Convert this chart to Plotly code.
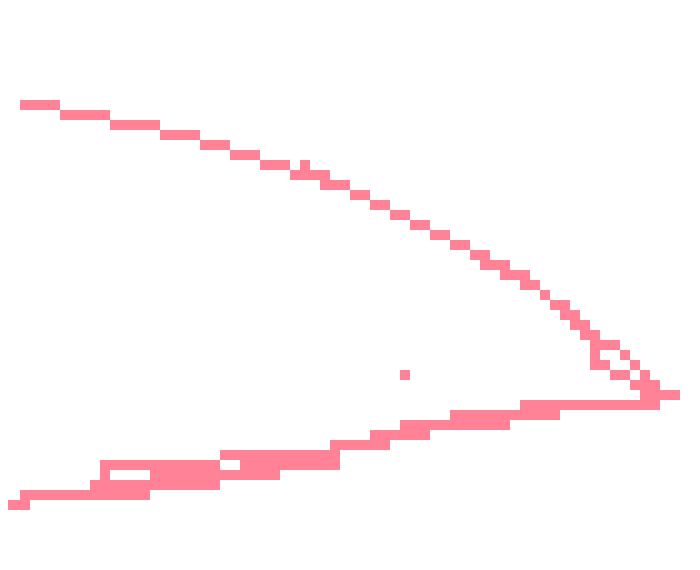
import numpy as np
import plotly.graph_objects as go

# filled runs on a 70 x 57 grid: row index, first column, last column
run_rows = [10, 11, 12, 13, 14, 15, 16, 16, 17, 18, 19, 20, 21, 22, 23, 24,
            25, 26, 27, 28, 29, 30, 31, 32, 33, 34, 35, 35, 36, 36, 37, 37,
            37, 38, 39, 40, 41, 42, 43, 44, 45, 46, 46, 47, 47, 48, 49, 50]
run_start = [2, 6, 11, 16, 20, 23, 26, 30, 29, 32, 35, 37, 39, 41, 43, 45,
             47, 48, 50, 52, 54, 55, 56, 57, 58, 59, 59, 62, 59, 63, 40, 61,
             64, 63, 64, 52, 45, 40, 37, 33, 22, 10, 24, 10, 15, 9, 2, 0]
run_end = [5, 10, 15, 19, 22, 25, 28, 30, 32, 34, 36, 38, 40, 42, 44, 46,
           48, 50, 52, 53, 54, 56, 57, 58, 59, 61, 59, 62, 60, 63, 40, 62,
           64, 65, 67, 65, 55, 50, 42, 38, 33, 21, 33, 10, 27, 21, 14, 2]

n_cols, n_rows = 70, 57

z = np.full((n_rows, n_cols), np.nan)
for r, a, b in zip(run_rows, run_start, run_end):
    z[r, a:b + 1] = 1

fig = go.Figure(
    go.Heatmap(
        z=z,
        colorscale=[[0, "#ff8296"], [1, "#ff8296"]],
        showscale=False,
        hoverinfo="skip",
    )
)

fig.update_layout(
    width=700,
    height=570,
    margin=dict(l=0, r=0, t=0, b=0),
    paper_bgcolor="white",
    plot_bgcolor="white",
)
# page body sits 8px in, so shift the ranges 0.8 of a cell to keep the grid on the window
fig.update_xaxes(visible=False, range=[0.3, n_cols + 0.3])
fig.update_yaxes(visible=False, range=[n_rows + 0.3, 0.3])

fig.write_html("out.html")
